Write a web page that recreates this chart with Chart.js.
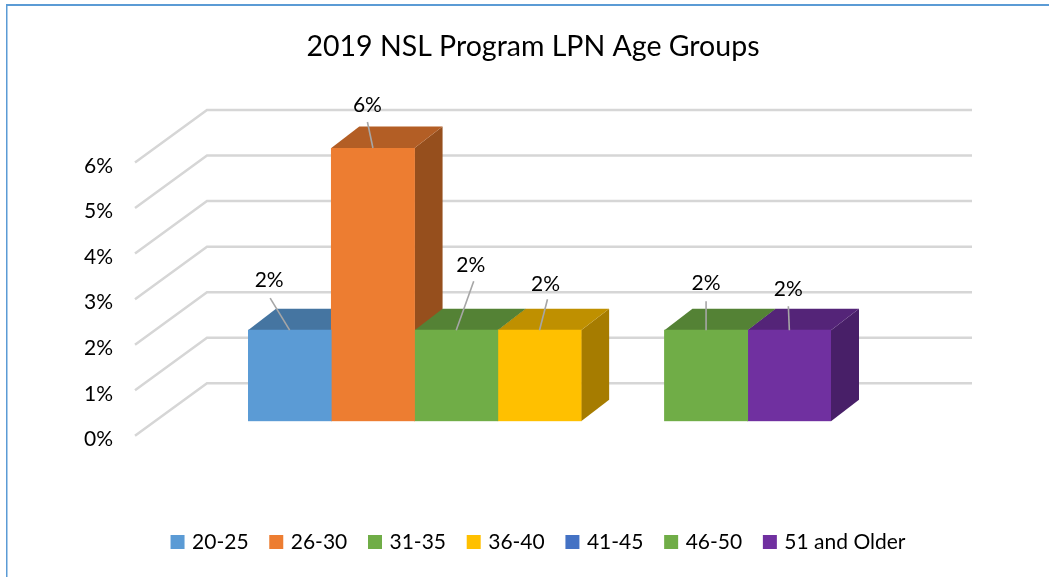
<!DOCTYPE html>
<html><head><meta charset="utf-8">
<style>html,body{margin:0;padding:0;background:#fff}canvas{display:block}</style>
<script src="https://cdn.jsdelivr.net/npm/chart.js@4"></script>
</head><body><canvas id="c" width="1049" height="577"></canvas>
<script>
const chartTitle = '2019 NSL Program LPN Age Groups';
const xLabels = [''];
const ageGroups = ['20-25','26-30','31-35','36-40','41-45','46-50','51 and Older'];
const percentValues = [2,6,2,2,0,2,2];
const yTickStep = 1;
const yMax = 6;
const frontColors = ['#5B9BD5','#ED7D31','#70AD47','#FFC000','#4472C4','#70AD47','#7030A0'];
const topColors   = ['#4575A1','#B35E25','#548235','#BF9000','#335693','#548235','#542478'];
const sideColors  = ['#3C6489','#964F1D','#476E2D','#A67C00','#2C4A7E','#476E2D','#481F68'];
// label centre and leader start, relative to the centre of each bar's top edge
const labelOffsets  = [[-20.5,-50],[-5.5,-43],[14.5,-65],[6,-46],[0,0],[0,-47],[-1,-41]];
const leaderOffsets = [[-19.5,-32],[-5.5,-26],[17.5,-49],[8,-31],[0,0],[0,-29],[-1,-24]];

const FONT = 'Lato, Carlito, sans-serif';
const depth = {barDx:28, barDy:21.5};
const wall = {frontX:135, backX:207, rightX:972, frontDy:14.5, backDy:-38};

const plot3d = {
  id:'plot3d',
  beforeDraw(chart){
    const c = chart.ctx;
    c.save();
    c.fillStyle = '#5B9BD5';
    c.fillRect(6,4,1043,2);
    c.fillRect(6,4,1.5,573);
    c.restore();
  },
  afterLayout(chart){
    chart.titleBlock.left -= 6.5;
    chart.titleBlock.right -= 6.5;
  },
  beforeDatasetsDraw(chart){
    const c = chart.ctx, y = chart.scales.y;
    c.save();
    c.strokeStyle = '#d6d6d6';
    c.lineWidth = 2.5;
    c.lineJoin = 'miter';
    y.ticks.forEach(t=>{
      const p = y.getPixelForValue(t.value);
      c.beginPath();
      c.moveTo(wall.frontX, p+wall.frontDy);
      c.lineTo(wall.backX, p+wall.backDy);
      c.lineTo(wall.rightX, p+wall.backDy);
      c.stroke();
    });
    percentValues.forEach((v,i)=>{
      if(!v) return;
      const b = chart.getDatasetMeta(i).data[0];
      const l = b.x-b.width/2, r = b.x+b.width/2, t = b.y, bt = b.base;
      const {barDx:dx, barDy:dy} = depth;
      c.fillStyle = sideColors[i];
      c.beginPath();
      c.moveTo(r,t);c.lineTo(r+dx,t-dy);c.lineTo(r+dx,bt-dy);c.lineTo(r,bt);c.closePath();c.fill();
      c.fillStyle = topColors[i];
      c.beginPath();
      c.moveTo(l,t);c.lineTo(r,t);c.lineTo(r+dx,t-dy);c.lineTo(l+dx,t-dy);c.closePath();c.fill();
    });
    c.restore();
  },
  afterDatasetsDraw(chart){
    const c = chart.ctx;
    c.save();
    percentValues.forEach((v,i)=>{
      if(!v) return;
      const b = chart.getDatasetMeta(i).data[0];
      c.strokeStyle = '#a6a6a6';
      c.lineWidth = 1.6;
      c.beginPath();
      c.moveTo(b.x+leaderOffsets[i][0], b.y+leaderOffsets[i][1]);
      c.lineTo(b.x, b.y);
      c.stroke();
      c.fillStyle = '#000';
      c.font = '21px '+FONT;
      c.textAlign = 'center';
      c.textBaseline = 'middle';
      c.fillText(v+'%', b.x+labelOffsets[i][0], b.y+labelOffsets[i][1]);
    });
    c.restore();
  }
};

new Chart(document.getElementById('c'),{
  type:'bar',
  data:{
    labels:xLabels,
    datasets:ageGroups.map((g,i)=>({
      label:g,
      data:[percentValues[i]],
      backgroundColor:percentValues[i] ? frontColors[i] : 'rgba(0,0,0,0)',
      borderWidth:0,
      barPercentage:1,
      categoryPercentage:1
    }))
  },
  plugins:[plot3d],
  options:{
    responsive:false,
    animation:false,
    layout:{padding:{left:60,right:30,top:0,bottom:14.5}},
    scales:{
      x:{
        grid:{display:false,drawTicks:false},
        border:{display:false},
        ticks:{display:false},
        afterFit(s){s.height=86.5;}
      },
      y:{
        min:0,max:yMax,
        grid:{display:false,drawTicks:false},
        border:{display:false},
        ticks:{
          stepSize:yTickStep,
          mirror:true,
          padding:-164,
          labelOffset:18,
          color:'#000',
          font:{family:FONT,size:21},
          callback:v=>v+'%'
        },
        afterFit(s){s.width=188;}
      },
      yRightSpace:{
        position:'right',
        grid:{display:false,drawTicks:false},
        border:{display:false},
        ticks:{display:false},
        afterFit(s){s.width=188;}
      }
    },
    plugins:{
      tooltip:{enabled:false},
      title:{
        display:true,
        text:chartTitle,
        color:'#000',
        font:{family:FONT,size:28.5,weight:'normal',lineHeight:1},
        padding:{top:33,bottom:86.5}
      },
      legend:{
        position:'bottom',
        labels:{
          color:'#000',
          font:{family:FONT,size:21},
          padding:23.7,
          boxWidth:8,
          boxHeight:8,
          generateLabels(chart){
            return ageGroups.map((g,i)=>({
              text:g,fillStyle:frontColors[i],strokeStyle:frontColors[i],
              lineWidth:6,lineJoin:'miter',datasetIndex:i,hidden:false
            }));
          }
        }
      }
    }
  }
});
</script></body></html>
